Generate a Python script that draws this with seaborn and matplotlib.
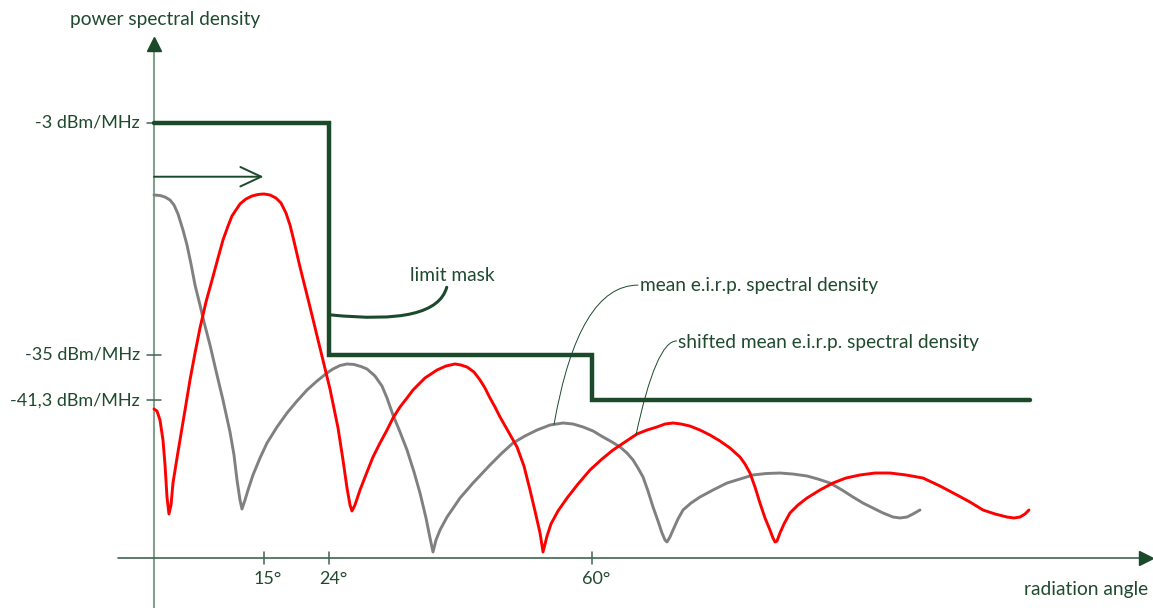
import numpy as np
import pandas as pd
import matplotlib
matplotlib.use("Agg")
import matplotlib.pyplot as plt
import seaborn as sns

# ---------------- data ----------------
mean_angle = [0, 0.82, 1.51, 2.19, 2.74, 3.29, 3.97, 4.52, 5.07, 5.62,
              6.30, 6.85, 7.67, 8.63, 9.45, 10.41, 10.96, 11.37, 11.78, 12.05,
              12.47, 12.88, 13.56, 14.52, 15.48, 16.85, 18.22, 19.59, 20.96, 22.33,
              23.70, 24.52, 25.48, 26.44, 27.40, 28.36, 29.18, 30.27, 31.23, 31.92,
              32.74, 33.70, 34.66, 35.62, 36.44, 37.26, 37.81, 38.22, 38.63, 39.18,
              40.14, 41.92, 43.70, 46.03, 47.67, 49.18, 50.82, 52.47, 54.25, 56.03,
              57.40, 58.77, 60.14, 61.51, 62.74, 63.84, 64.79, 65.62, 66.30, 66.99,
              67.67, 68.36, 69.04, 69.59, 70.00, 70.27, 70.68, 71.10, 71.78, 72.47,
              73.56, 74.79, 76.58, 78.49, 80.27, 82.05, 83.84, 85.75, 87.53, 89.45,
              90.96, 92.60, 94.25, 95.75, 97.12, 98.49, 99.86, 101.23, 102.19, 103.15,
              103.97, 104.93]
mean_psd = [-12.97, -13.04, -13.25, -13.66, -14.35, -15.59, -17.80, -19.87, -22.49, -25.39,
            -28.15, -30.49, -33.66, -37.80, -41.25, -45.66, -48.84, -52.28, -55.04, -56.28,
            -55.04, -53.66, -51.59, -49.25, -47.18, -44.97, -43.04, -41.39, -39.87, -38.63,
            -37.52, -36.97, -36.49, -36.28, -36.35, -36.63, -36.97, -37.94, -39.32, -40.97,
            -43.32, -45.66, -48.15, -51.18, -54.08, -57.52, -60.28, -62.21, -60.56, -59.18,
            -57.39, -54.77, -52.70, -50.21, -48.56, -47.18, -46.21, -45.39, -44.70, -44.42,
            -44.56, -44.97, -45.52, -46.35, -47.04, -47.73, -48.56, -49.52, -50.63, -51.87,
            -53.80, -56.01, -57.94, -59.59, -60.56, -60.83, -60.15, -59.18, -57.66, -56.42,
            -55.46, -54.63, -53.66, -52.70, -52.15, -51.59, -51.39, -51.32, -51.46, -51.73,
            -52.15, -52.70, -53.66, -54.63, -55.46, -56.15, -56.83, -57.39, -57.52, -57.39,
            -56.97, -56.42]

shifted_angle = [0, 0.41, 0.82, 1.23, 1.51, 1.78, 2.05, 2.33, 2.60, 3.15,
                 3.56, 4.25, 4.93, 5.62, 6.30, 7.12, 7.95, 8.77, 9.45, 10.14,
                 10.68, 11.78, 12.60, 13.42, 14.25, 15.07, 15.89, 16.71, 17.40, 18.08,
                 18.63, 19.04, 20.00, 21.37, 22.74, 24.11, 25.21, 25.89, 26.44, 26.85,
                 27.12, 27.53, 28.22, 29.18, 30.00, 30.96, 31.92, 32.74, 33.70, 34.66,
                 35.48, 36.30, 37.12, 37.95, 38.77, 40.00, 41.23, 42.05, 42.88, 43.84,
                 44.66, 45.34, 46.03, 46.71, 47.40, 48.49, 49.73, 50.68, 51.51, 52.19,
                 52.88, 53.29, 53.84, 54.38, 55.34, 56.58, 58.08, 59.73, 61.37, 62.88,
                 64.52, 66.16, 67.53, 68.90, 70.00, 71.10, 72.19, 73.42, 74.79, 76.16,
                 77.53, 78.90, 80.27, 80.96, 81.64, 82.33, 83.01, 83.70, 84.38, 84.79,
                 85.07, 85.34, 85.75, 86.30, 87.12, 88.22, 89.45, 91.23, 93.01, 94.79,
                 96.71, 98.77, 100.82, 103.01, 105.34, 107.67, 110.00, 111.78, 113.56, 115.21,
                 116.85, 117.81, 118.63, 119.32, 119.86]
shifted_psd = [-42.49, -42.77, -44.01, -46.77, -50.21, -54.63, -56.97, -55.73, -52.70, -49.25,
               -46.77, -42.63, -38.49, -34.77, -31.32, -27.73, -24.70, -21.66, -19.18, -17.25,
               -15.87, -14.21, -13.52, -13.11, -12.90, -12.83, -12.97, -13.39, -14.08, -15.46,
               -17.11, -18.77, -22.90, -28.42, -34.08, -39.73, -45.11, -49.52, -53.39, -55.73,
               -56.56, -55.73, -53.66, -51.18, -49.11, -47.18, -45.39, -43.73, -42.21, -40.97,
               -39.87, -39.04, -38.21, -37.66, -37.11, -36.56, -36.28, -36.42, -36.70, -37.39,
               -38.49, -39.59, -40.97, -42.21, -43.59, -45.52, -47.73, -50.35, -53.66, -56.56,
               -59.59, -62.21, -60.01, -58.35, -56.56, -54.77, -52.84, -50.90, -49.39, -48.15,
               -47.04, -45.94, -45.39, -44.97, -44.56, -44.42, -44.56, -44.84, -45.39, -46.08,
               -46.90, -47.87, -49.11, -50.08, -51.32, -53.25, -55.46, -57.52, -59.18, -60.28,
               -60.83, -60.70, -59.59, -58.35, -56.83, -55.73, -54.77, -53.66, -52.70, -52.01,
               -51.59, -51.32, -51.32, -51.59, -52.01, -53.11, -54.35, -55.32, -56.42, -56.97,
               -57.39, -57.52, -57.39, -56.97, -56.42]

mask_angle = [0, 24, 24, 60, 60, 120]
mask_psd = [-3, -3, -35, -35, -41.3, -41.3]

x_ticks = [15, 24, 60]
x_tick_labels = ["15°", "24°", "60°"]
y_ticks = [-3, -35, -41.3]
y_tick_labels = ["-3 dBm/MHz", "-35 dBm/MHz", "-41,3 dBm/MHz"]

# ---------------- style ----------------
sns.set_theme(style="white")
plt.rcParams["font.family"] = ["Lato", "DejaVu Sans"]

TXT = "#1f4a2e"
MASK = "#1b4a2b"
AXC = "#3f6550"
YAXC = "#86a08f"
FS = 13
FS2 = 13.8

XLIM = (-154 / 7.3, (1153 - 154) / 7.3)
YLIM = (-3 - (608 - 122.7) / 7.25, -3 + 122.7 / 7.25)

fig = plt.figure(figsize=(11.53, 6.08), dpi=100)
ax = fig.add_axes([0, 0, 1, 1])

X0 = -63.0  # level of the horizontal axis

# axes lines
ax.plot([0, 0], [-70, 7.3], color=YAXC, lw=1.5, zorder=2)
ax.plot([0], [7.9], marker="^", ms=9.6, color=MASK, mec=MASK, zorder=3, clip_on=False)
ax.plot([-4.93, 135.2], [X0, X0], color=AXC, lw=1.2, zorder=2)
ax.plot([135.95], [X0], marker=">", ms=9.6, color=MASK, mec=MASK, zorder=3, clip_on=False)

# tick marks
for yt in y_ticks:
    ax.plot([-0.95, 0.95], [yt, yt], color=AXC, lw=1.1, zorder=2)
for xt in x_ticks:
    ax.plot([xt, xt], [X0 + 0.85, X0 - 0.85], color=AXC, lw=1.1, zorder=2)

# tick labels
for yt, lab in zip(y_ticks, y_tick_labels):
    ax.text(-1.95, yt, lab, ha="right", va="center", fontsize=FS, color=TXT)
for xt, lab in zip(x_ticks, x_tick_labels):
    ax.text(xt + 0.6, -65.9, lab, ha="center", va="center", fontsize=FS, color=TXT)

# curves
df_mean = pd.DataFrame({"angle": mean_angle, "psd": mean_psd})
df_shift = pd.DataFrame({"angle": shifted_angle, "psd": shifted_psd})
df_mask = pd.DataFrame({"angle": mask_angle, "psd": mask_psd})

sns.lineplot(data=df_mean, x="angle", y="psd", sort=False, estimator=None,
             color="#808080", lw=2.1, ax=ax, zorder=4,
             solid_joinstyle="round", solid_capstyle="round")
sns.lineplot(data=df_shift, x="angle", y="psd", sort=False, estimator=None,
             color="#ff0000", lw=2.1, ax=ax, zorder=5,
             solid_joinstyle="round", solid_capstyle="round")
sns.lineplot(data=df_mask, x="angle", y="psd", sort=False, estimator=None,
             color=MASK, lw=3.2, ax=ax, zorder=6, solid_joinstyle="miter")
ax.axis("off")
ax.set_xlim(*XLIM)
ax.set_ylim(*YLIM)

# shift arrow
ax.annotate("", xy=(15.0, -10.45), xytext=(0, -10.45),
            arrowprops=dict(arrowstyle="->,head_length=0.75,head_width=0.35",
                            mutation_scale=20, color=MASK, lw=1.4,
                            shrinkA=0, shrinkB=0), zorder=6)

# labels
ax.text(-11.5, 11.3, "power spectral density", ha="left", va="center", fontsize=FS2, color=TXT)
ax.text(136.2, -67.4, "radiation angle", ha="right", va="center", fontsize=FS2, color=TXT)
ax.text(35.1, -24.1, "limit mask", ha="left", va="center", fontsize=FS2, color=TXT)
ax.text(66.6, -25.4, "mean e.i.r.p. spectral density", ha="left", va="center", fontsize=FS2, color=TXT)
ax.text(71.8, -33.3, "shifted mean e.i.r.p. spectral density", ha="left", va="center", fontsize=FS2, color=TXT)

# connectors
ax.annotate("", xy=(40.1, -25.7), xytext=(24.1, -29.5),
            arrowprops=dict(arrowstyle="-", color=MASK, lw=2.2,
                            connectionstyle="angle3,angleA=-6,angleB=75",
                            shrinkA=0, shrinkB=0), zorder=6)
ax.annotate("", xy=(54.8, -44.6), xytext=(66.3, -25.4),
            arrowprops=dict(arrowstyle="-", color=MASK, lw=0.7,
                            connectionstyle="angle3,angleA=0,angleB=80",
                            shrinkA=0, shrinkB=0), zorder=6)
ax.annotate("", xy=(66.0, -46.2), xytext=(71.6, -33.1),
            arrowprops=dict(arrowstyle="-", color=MASK, lw=0.7,
                            connectionstyle="angle3,angleA=0,angleB=78",
                            shrinkA=0, shrinkB=0), zorder=6)

fig.savefig("out.png", dpi=100)
